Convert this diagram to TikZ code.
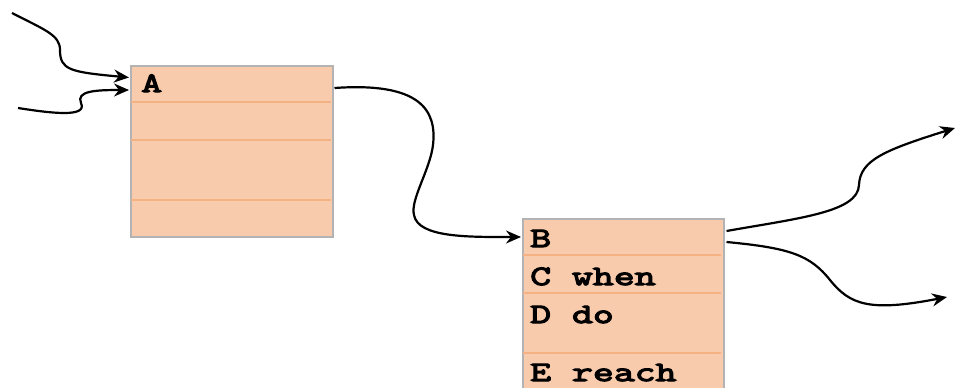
\documentclass[tikz,border=0pt]{standalone}
\usepackage{fontspec}
\newfontfamily\recfont[FakeStretch=1.45, FakeBold=4.5]{Latin Modern Mono}
\usetikzlibrary{arrows.meta,calc}
\definecolor{cellfill}{HTML}{F8CBAD}
\definecolor{cellrule}{HTML}{F4B183}
\definecolor{cellborder}{HTML}{B3B3B3}
\tikzset{
  frame/.style={draw=cellborder, line width=1.5pt, fill=cellfill},
  rowrule/.style={draw=cellrule, line width=2pt},
  label/.style={anchor=base west, inner sep=0pt, font=\fontsize{28}{28}\selectfont\recfont},
  link/.style={draw=black, line width=2.2pt, -{Stealth[length=15pt,width=13pt,inset=5pt]}},
}
\begin{document}
\begin{tikzpicture}[x=1pt,y=-1pt]
\useasboundingbox (0,0) rectangle (956,388);

% first record
\node[frame, minimum width=202pt, minimum height=171pt, inner sep=0pt, anchor=north west] (boxA) at (130,65) {};
\draw[rowrule] (131,101.5) -- (331,101.5);
\draw[rowrule] (131,140) -- (331,140);
\draw[rowrule] (131,200) -- (331,200);
\node[label] (tA) at (141,92) {A};

% second record, running past the lower edge
\node[frame, minimum width=201pt, minimum height=190pt, inner sep=0pt, anchor=north west] (boxB) at (522,218) {};
\draw[rowrule] (523,255) -- (721,255);
\draw[rowrule] (523,293) -- (721,293);
\draw[rowrule] (523,353) -- (721,353);
\node[label] (tB) at (530,247) {B};
\node[label] (tC) at (530,285) {C when};
\node[label] (tD) at (530,323) {D do};
\node[label] (tE) at (530,381) {E reach};

% free ends
\coordinate (in1) at (12,13);
\coordinate (in2) at (18,108);
\coordinate (out1) at (955,128);
\coordinate (out2) at (947,297);

% connector anchors on the records
\coordinate (a1) at ($(boxA.north west)+(-1,12.5)$);
\coordinate (a2) at ($(boxA.north west)+(-1,25)$);
\coordinate (a3) at ($(boxA.north east)+(1,23)$);
\coordinate (b0) at ($(boxB.north west)+(-1,19)$);
\coordinate (b1) at ($(boxB.north east)+(2,13)$);
\coordinate (b2) at ($(boxB.north east)+(2,24)$);

\draw[link] (in1) .. controls (45,30) and (60,35) .. (60,50)
            .. controls (60,70) and (70,72) .. (a1);
\draw[link] (in2) .. controls (50,113) and (88,118) .. (81,103)
            .. controls (76,91) and (95,90) .. (a2);
\draw[link] (a3) .. controls (420,82) and (437,110) .. (433,145)
            .. controls (430,170) and (410,200) .. (414,215)
            .. controls (418,238) and (470,237) .. (b0);
\draw[link] (b1) .. controls (800,218) and (858,212) .. (859,185)
            .. controls (860,160) and (885,150) .. (out1);
\draw[link] (b2) .. controls (790,248) and (810,255) .. (830,280)
            .. controls (850,305) and (870,312) .. (out2);
\end{tikzpicture}
\end{document}
